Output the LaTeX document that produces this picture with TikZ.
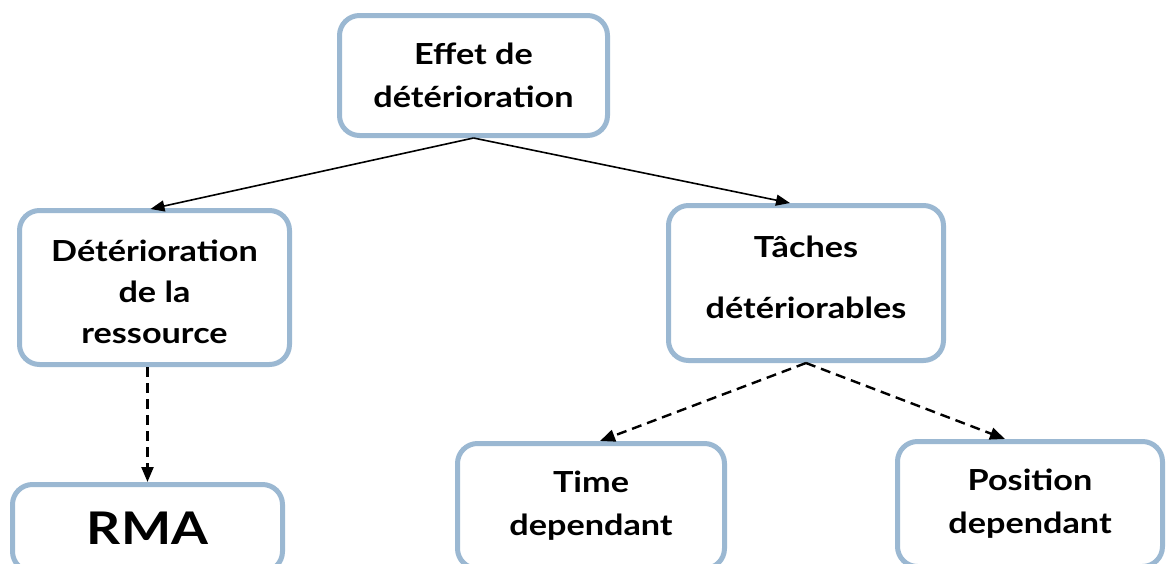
\documentclass[tikz,border=0pt]{standalone}
\usepackage{fontspec}
\setmainfont{Lato}
\newfontfamily\boxfont{Lato}[FakeStretch=1.18]
\usetikzlibrary{arrows.meta}
\definecolor{boxline}{RGB}{155,184,210}
\tikzset{
  box/.style={draw=boxline, line width=5pt, rounded corners=20pt, fill=white,
    align=center, font=\boxfont\bfseries\fontsize{29}{43}\selectfont, inner sep=0pt},
  link/.style={line width=1.6pt, -{Triangle[length=14pt,width=11pt]}},
  dlink/.style={line width=2.4pt, dash pattern=on 10pt off 6pt,
    -{Triangle[length=15pt,width=12pt]}}
}
\begin{document}
\begin{tikzpicture}[x=1pt,y=-1pt]
\useasboundingbox (0,0) rectangle (1168,563);
\node[box, minimum width=268pt, minimum height=120pt] (eff) at (473.5,75.5) {Effet de\\détérioration};
\node[box, minimum width=270pt, minimum height=154pt] (res) at (154.5,287.5) {\raisebox{-6pt}[\height][\depth]{\begin{tabular}{@{}c@{}}Détérioration\\[-2pt]de la\\[-2pt]ressource\end{tabular}}};
\node[box, minimum width=275pt, minimum height=155pt, font=\boxfont\bfseries\fontsize{29}{60}\selectfont] (tac) at (806,283) {\raisebox{7pt}[\height][\depth]{\begin{tabular}{@{}c@{}}Tâches\\[1pt]détériorables\end{tabular}}};
\node[box, minimum width=270pt, minimum height=87pt, font=\boxfont\bfseries\fontsize{45}{50}\selectfont] (rma) at (147.5,528) {RMA};
\node[box, minimum width=267pt, minimum height=125pt] (tim) at (591,506) {Time\\dependant};
\node[box, minimum width=265pt, minimum height=125pt] (pos) at (1030,504) {Position\\dependant};
\draw[link] (eff.south) -- ([xshift=-4pt,yshift=-1pt]res.north);
\draw[link] (eff.south) -- ([xshift=-16pt]tac.north);
\draw[dlink] (rma.north |- res.south) -- (rma.north);
\draw[dlink] (tac.south) -- ([xshift=9pt]tim.north);
\draw[dlink] (tac.south) -- ([xshift=-25pt]pos.north);
\end{tikzpicture}
\end{document}
